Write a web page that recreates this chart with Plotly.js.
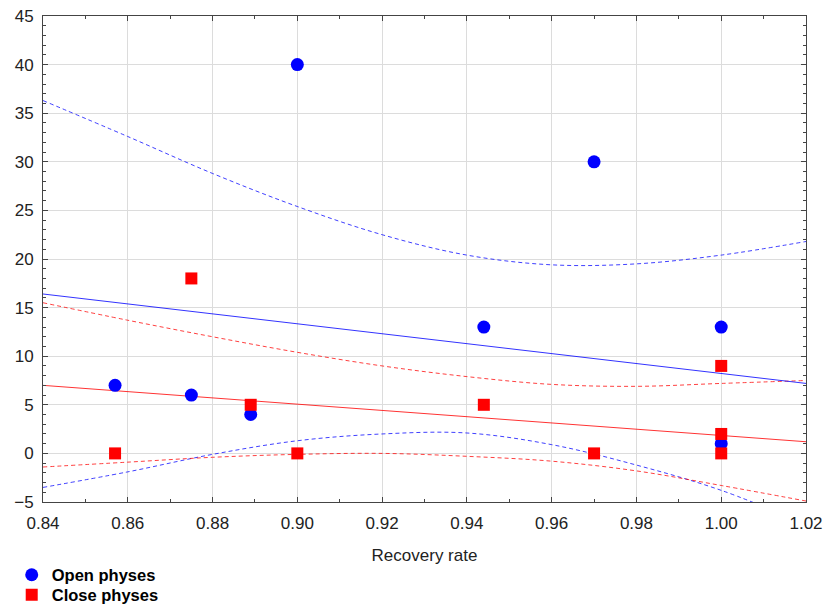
<!DOCTYPE html>
<html>
<head>
<meta charset="utf-8">
<script src="https://cdn.plot.ly/plotly-3.0.1.min.js"></script>
<style>html,body{margin:0;padding:0;background:#fff;}#chart{width:824px;height:605px;}</style>
</head>
<body>
<div id="chart"></div>
<script>
// Scatter data
const openX = [0.857, 0.875, 0.889, 0.900, 0.944, 0.970, 1.000, 1.000];
const openY = [7, 6, 4, 40, 13, 30, 13, 1];
const closeX = [0.857, 0.875, 0.889, 0.900, 0.944, 0.970, 1.000, 1.000, 1.000];
const closeY = [0, 18, 5, 0, 5, 0, 9, 2, 0];

// Fitted lines
const lineX = [0.84, 1.02];
const openFit = [16.4, 7.2];
const closeFit = [7.0, 1.2];

// Confidence bands
const bandX = [0.84, 0.86, 0.88, 0.90, 0.92, 0.94, 0.96, 0.98, 1.00, 1.02];
const openUpper = [36.3, 32.6, 28.8, 25.4, 22.5, 20.4, 19.4, 19.5, 20.4, 21.8];
const openLower = [-3.5, -1.9, -0.1, 1.3, 2.0, 2.1, 0.9, -1.2, -3.8, -7.3];
const closeUpper = [15.5, 13.7, 12.0, 10.4, 9.0, 7.9, 7.1, 6.9, 7.2, 7.5];
const closeLower = [-1.4, -0.9, -0.4, -0.1, 0.0, -0.3, -0.8, -1.8, -3.3, -4.9];

const xTicks = [0.84, 0.86, 0.88, 0.90, 0.92, 0.94, 0.96, 0.98, 1.00, 1.02];
const xTickText = ['0.84', '0.86', '0.88', '0.90', '0.92', '0.94', '0.96', '0.98', '1.00', '1.02'];
const yTicks = [-5, 0, 5, 10, 15, 20, 25, 30, 35, 40, 45];

const BLUE = '#0000ff', RED = '#ff0000';
const dashStyle = '4px,3px';
const FONT = 'Liberation Sans, Arial, sans-serif';

const traces = [
  {x: bandX, y: openUpper, mode: 'lines', line: {color: BLUE, width: 1, dash: dashStyle, shape: 'spline'}, showlegend: false, hoverinfo: 'skip', opacity: 0.75},
  {x: bandX, y: openLower, mode: 'lines', line: {color: BLUE, width: 1, dash: dashStyle, shape: 'spline'}, showlegend: false, hoverinfo: 'skip', opacity: 0.75},
  {x: bandX, y: closeUpper, mode: 'lines', line: {color: RED, width: 1, dash: dashStyle, shape: 'spline'}, showlegend: false, hoverinfo: 'skip', opacity: 0.75},
  {x: bandX, y: closeLower, mode: 'lines', line: {color: RED, width: 1, dash: dashStyle, shape: 'spline'}, showlegend: false, hoverinfo: 'skip', opacity: 0.75},
  {x: lineX, y: openFit, mode: 'lines', line: {color: BLUE, width: 1}, showlegend: false, hoverinfo: 'skip', opacity: 0.8},
  {x: lineX, y: closeFit, mode: 'lines', line: {color: RED, width: 1}, showlegend: false, hoverinfo: 'skip', opacity: 0.8},
  {x: openX, y: openY, mode: 'markers', name: 'Open physes', legend: 'legend', marker: {symbol: 'circle', size: 13, color: BLUE}},
  {x: closeX, y: closeY, mode: 'markers', name: 'Close physes', legend: 'legend2', marker: {symbol: 'square', size: 12, color: RED}}
];

const axisCommon = {
  showline: true, linecolor: '#444', linewidth: 1, mirror: 'allticks',
  ticks: 'inside', ticklen: 5, tickcolor: '#444', tickwidth: 1,
  showgrid: true, gridcolor: '#dcdcdc', gridwidth: 1, zeroline: false,
  tickfont: {family: FONT, size: 17, color: '#222'}
};

const legendCommon = {
  x: -0.041, xanchor: 'left', yanchor: 'middle', orientation: 'v',
  font: {family: FONT, size: 16.5, color: '#000', weight: 'bold'},
  bgcolor: 'rgba(0,0,0,0)', borderwidth: 0
};

const layout = {
  width: 824, height: 605,
  margin: {l: 43, r: 18, t: 16, b: 103, autoexpand: false},
  paper_bgcolor: '#fff', plot_bgcolor: '#fff',
  showlegend: true,
  legend: Object.assign({}, legendCommon, {y: -0.1502}),
  legend2: Object.assign({}, legendCommon, {y: -0.1914}),
  xaxis: Object.assign({}, axisCommon, {
    range: [0.84, 1.02], tickmode: 'array', tickvals: xTicks, ticktext: xTickText,
    ticklabelstandoff: 6,
    minor: {dtick: 0.01, tick0: 0.84, ticks: 'inside', ticklen: 3, tickcolor: '#444', showgrid: false},
    title: {text: 'Recovery rate', font: {family: FONT, size: 17, color: '#222'}, standoff: 16}
  }),
  yaxis: Object.assign({}, axisCommon, {
    range: [-5, 45], tickmode: 'array', tickvals: yTicks,
    ticklabelstandoff: 5,
    minor: {dtick: 1, tick0: 0, ticks: 'inside', ticklen: 3, tickcolor: '#444', showgrid: false}
  })
};

Plotly.newPlot('chart', traces, layout, {displayModeBar: false, staticPlot: true});
</script>
</body>
</html>
